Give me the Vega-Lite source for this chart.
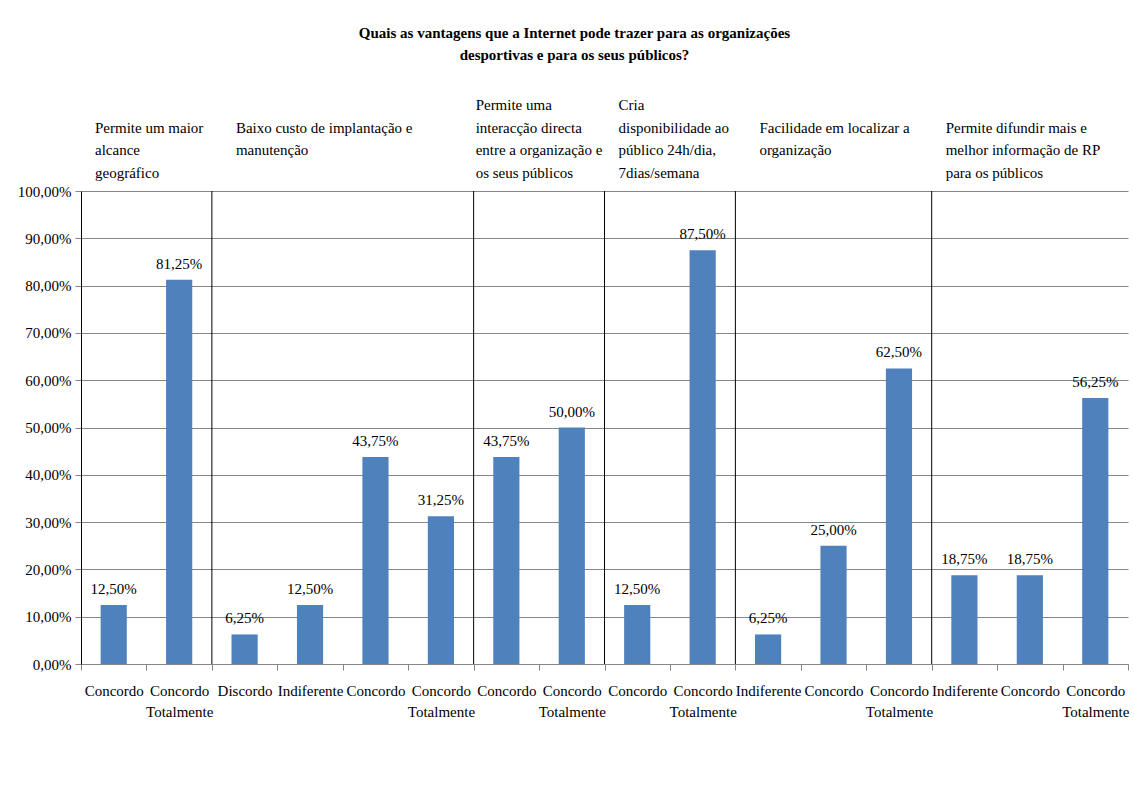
{
  "$schema": "https://vega.github.io/schema/vega-lite/v6.json",
  "width": 1047,
  "height": 473,
  "autosize": {"type": "none"},
  "padding": {"left": 81, "top": 191, "right": 6, "bottom": 123},
  "background": "white",
  "title": {
    "text": ["Quais as vantagens que a Internet pode trazer para as organizações", "desportivas e para os seus públicos?"],
    "font": "Liberation Serif",
    "fontSize": 15,
    "fontWeight": "bold",
    "lineHeight": 22,
    "anchor": "middle",
    "frame": "group",
    "dx": -30,
    "offset": 35,
    "color": "#000000"
  },
  "config": {
    "view": {"stroke": null},
    "font": "Liberation Serif",
    "axis": {
      "labelFont": "Liberation Serif",
      "labelFontSize": 15,
      "labelColor": "#000000",
      "tickColor": "#868686",
      "domainColor": "#868686",
      "gridColor": "#868686",
      "tickSize": 6
    },
    "text": {"font": "Liberation Serif", "fontSize": 15, "color": "#000000"}
  },
  "datasets": {
    "barras": [
      {"k": "01 Concordo", "v": 0.125},
      {"k": "02 Concordo Totalmente", "v": 0.8125},
      {"k": "03 Discordo", "v": 0.0625},
      {"k": "04 Indiferente", "v": 0.125},
      {"k": "05 Concordo", "v": 0.4375},
      {"k": "06 Concordo Totalmente", "v": 0.3125},
      {"k": "07 Concordo", "v": 0.4375},
      {"k": "08 Concordo Totalmente", "v": 0.5},
      {"k": "09 Concordo", "v": 0.125},
      {"k": "10 Concordo Totalmente", "v": 0.875},
      {"k": "11 Indiferente", "v": 0.0625},
      {"k": "12 Concordo", "v": 0.25},
      {"k": "13 Concordo Totalmente", "v": 0.625},
      {"k": "14 Indiferente", "v": 0.1875},
      {"k": "15 Concordo", "v": 0.1875},
      {"k": "16 Concordo Totalmente", "v": 0.5625}
    ],
    "grupos": [
      {"k": "01 Concordo", "titulo": " \nPermite um maior\nalcance\ngeográfico"},
      {"k": "03 Discordo", "titulo": " \nBaixo custo de implantação e\nmanutenção\n "},
      {"k": "07 Concordo", "titulo": "Permite uma\ninteracção directa\nentre a organização e\nos seus públicos"},
      {"k": "09 Concordo", "titulo": "Cria\ndisponibilidade ao\npúblico 24h/dia,\n7dias/semana"},
      {"k": "11 Indiferente", "titulo": " \n \nFacilidade em localizar a\norganização"},
      {"k": "14 Indiferente", "titulo": " \nPermite difundir mais e\nmelhor informação de RP\npara os públicos"}
    ],
    "divisoes": [
      {"k": "03 Discordo"},
      {"k": "07 Concordo"},
      {"k": "09 Concordo"},
      {"k": "11 Indiferente"},
      {"k": "14 Indiferente"}
    ]
  },
  "layer": [
    {
      "data": {"name": "barras"},
      "mark": {"type": "bar", "color": "#4F81BD", "width": {"band": 0.4}},
      "encoding": {
        "x": {
          "field": "k", "type": "nominal", "sort": "ascending",
          "scale": {"paddingInner": 0, "paddingOuter": 0},
          "axis": {
            "title": null,
            "labelAngle": 0,
            "ticks": true,
            "tickBand": "extent",
            "labelExpr": "isString(datum.value) ? split(slice(datum.value, 3), ' ') : ''",
            "labelLineHeight": 21,
            "labelPadding": 13,
            "labelBaseline": "top",
            "domainColor": "#868686"
          }
        },
        "y": {
          "field": "v", "type": "quantitative",
          "scale": {"domain": [0, 1], "nice": false},
          "axis": {
            "title": null,
            "values": [0, 0.1, 0.2, 0.3, 0.4, 0.5, 0.6, 0.7, 0.8, 0.9, 1],
            "labelExpr": "replace(format(datum.value, '.2%'), '.', ',')",
            "grid": true,
            "labelPadding": 4,
            "domainColor": "#000000"
          }
        }
      }
    },
    {
      "data": {"name": "barras"},
      "transform": [{"calculate": "replace(format(datum.v, '.2%'), '.', ',')", "as": "rotulo"}],
      "mark": {"type": "text", "baseline": "alphabetic", "dy": -11},
      "encoding": {
        "x": {"field": "k", "type": "nominal", "sort": "ascending"},
        "y": {"field": "v", "type": "quantitative"},
        "text": {"field": "rotulo"}
      }
    },
    {
      "data": {"name": "divisoes"},
      "mark": {"type": "rule", "color": "#000000", "strokeWidth": 1},
      "encoding": {
        "x": {"field": "k", "type": "nominal", "sort": "ascending", "bandPosition": 0},
        "y": {"datum": 0},
        "y2": {"datum": 1}
      }
    },
    {
      "data": {"name": "grupos"},
      "transform": [{"filter": "datum.k == '01 Concordo' || datum.k == '09 Concordo' || datum.k == '14 Indiferente'"}],
      "mark": {"type": "text", "align": "left", "baseline": "bottom", "lineBreak": "\n", "lineHeight": 22.5, "dx": 14, "dy": -78},
      "encoding": {
        "x": {"field": "k", "type": "nominal", "sort": "ascending", "bandPosition": 0},
        "y": {"datum": 1},
        "text": {"field": "titulo"}
      }
    },
    {
      "data": {"name": "grupos"},
      "transform": [{"filter": "datum.k == '03 Discordo' || datum.k == '11 Indiferente'"}],
      "mark": {"type": "text", "align": "left", "baseline": "bottom", "lineBreak": "\n", "lineHeight": 22.5, "dx": 24, "dy": -78},
      "encoding": {
        "x": {"field": "k", "type": "nominal", "sort": "ascending", "bandPosition": 0},
        "y": {"datum": 1},
        "text": {"field": "titulo"}
      }
    },
    {
      "data": {"name": "grupos"},
      "transform": [{"filter": "datum.k == '07 Concordo'"}],
      "mark": {"type": "text", "align": "left", "baseline": "bottom", "lineBreak": "\n", "lineHeight": 22.5, "dx": 2, "dy": -78},
      "encoding": {
        "x": {"field": "k", "type": "nominal", "sort": "ascending", "bandPosition": 0},
        "y": {"datum": 1},
        "text": {"field": "titulo"}
      }
    }
  ]
}
